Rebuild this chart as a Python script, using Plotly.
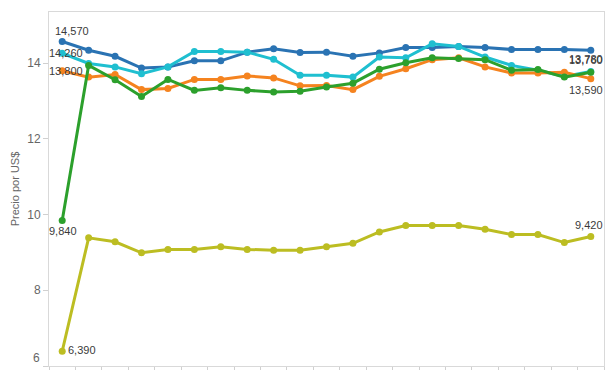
import plotly.graph_objects as go

periods = list(range(21))

blue = [14.57, 14.34, 14.18, 13.87, 13.90, 14.06, 14.06, 14.29, 14.38, 14.28, 14.29,
        14.18, 14.27, 14.41, 14.41, 14.44, 14.41, 14.36, 14.36, 14.36, 14.34]
cyan = [14.26, 13.99, 13.90, 13.72, 13.90, 14.31, 14.31, 14.29, 14.10, 13.68, 13.68,
        13.63, 14.16, 14.14, 14.51, 14.44, 14.16, 13.94, 13.81, 13.65, 13.78]
orange = [13.80, 13.63, 13.70, 13.30, 13.33, 13.57, 13.57, 13.66, 13.61, 13.40, 13.41,
          13.30, 13.65, 13.85, 14.09, 14.14, 13.90, 13.74, 13.74, 13.76, 13.59]
green = [9.84, 13.94, 13.56, 13.12, 13.57, 13.28, 13.35, 13.28, 13.24, 13.26, 13.37,
         13.47, 13.84, 14.01, 14.14, 14.12, 14.09, 13.81, 13.83, 13.63, 13.76]
olive = [6.39, 9.385, 9.28, 8.99, 9.08, 9.08, 9.15, 9.08, 9.06, 9.06, 9.15,
         9.24, 9.54, 9.71, 9.71, 9.71, 9.61, 9.47, 9.47, 9.26, 9.42]

y_ticks = [6, 8, 10, 12, 14]
y_title = "Precio por US$"

series = [
    (blue, "#2a73b3"),
    (cyan, "#1fbfd0"),
    (orange, "#f5831f"),
    (green, "#2ca02c"),
    (olive, "#bcbd22"),
]

fig = go.Figure()
for vals, col in series:
    fig.add_trace(go.Scatter(
        x=periods, y=vals, mode="lines+markers",
        line=dict(color=col, width=3),
        marker=dict(color=col, size=7),
        showlegend=False, hoverinfo="skip"))


def fmt(v):
    return f"{round(v * 1000):,}"


lab_font = dict(family="Liberation Sans, Arial, sans-serif", size=11, color="#3a3a3a")
last = periods[-1]
ann = []
# start labels
ann.append(dict(x=0, y=blue[0], text=fmt(blue[0]), xanchor="center", yanchor="middle",
                xshift=10, yshift=11))
ann.append(dict(x=0, y=cyan[0], text=fmt(cyan[0]), xanchor="center", yanchor="middle",
                xshift=4, yshift=0))
ann.append(dict(x=0, y=orange[0], text=fmt(orange[0]), xanchor="center", yanchor="middle",
                xshift=4, yshift=0))
ann.append(dict(x=0, y=green[0], text=fmt(green[0]), xanchor="center", yanchor="middle",
                xshift=1, yshift=-10))
ann.append(dict(x=0, y=olive[0], text=fmt(olive[0]), xanchor="left", yanchor="middle",
                xshift=4, yshift=1))
# end labels
ann.append(dict(x=last, y=cyan[-1], text=fmt(cyan[-1]), xanchor="center", yanchor="middle",
                xshift=-5, yshift=12))
ann.append(dict(x=last, y=green[-1], text=fmt(green[-1]), xanchor="center", yanchor="middle",
                xshift=-5, yshift=12))
ann.append(dict(x=last, y=orange[-1], text=fmt(orange[-1]), xanchor="center", yanchor="middle",
                xshift=-5, yshift=-11))
ann.append(dict(x=last, y=olive[-1], text=fmt(olive[-1]), xanchor="center", yanchor="middle",
                xshift=-2, yshift=12))
for a in ann:
    a.update(xref="x", yref="y", showarrow=False, font=lab_font)

# bottom tick label "6" nudged up to stay inside the view
ann.append(dict(xref="paper", yref="y", x=0, y=y_ticks[0], text=str(y_ticks[0]),
                xanchor="right", yanchor="middle", xshift=-7, yshift=8, showarrow=False,
                font=dict(family="Liberation Sans, Arial, sans-serif", size=12, color="#666666")))

fig.update_layout(
    width=607, height=362,
    margin=dict(l=41, r=11, t=4, b=4, autoexpand=False),
    paper_bgcolor="white", plot_bgcolor="white",
    annotations=ann,
    font=dict(family="Liberation Sans, Arial, sans-serif"),
)
fig.update_xaxes(
    range=[-0.5, 20.5], automargin=False,
    tickmode="array", tickvals=[p - 0.5 for p in periods] + [periods[-1] + 0.5],
    showticklabels=False, ticks="outside", ticklen=5, tickcolor="#d0d0d0",
    showgrid=False, zeroline=False,
    showline=True, linecolor="#d9d9d9", linewidth=1, mirror=True,
)
fig.update_yaxes(
    range=[6, 15.35], automargin=False,
    tickmode="array", tickvals=y_ticks,
    ticktext=[""] + [str(t) for t in y_ticks[1:]],
    ticks="outside", ticklen=5, tickcolor="#d0d0d0",
    tickfont=dict(size=12, color="#666666"),
    showgrid=False, zeroline=False,
    showline=True, linecolor="#d9d9d9", linewidth=1, mirror=True,
    title=dict(text=y_title, font=dict(size=11, color="#666666"), standoff=5),
)

fig.write_html("out.html")
